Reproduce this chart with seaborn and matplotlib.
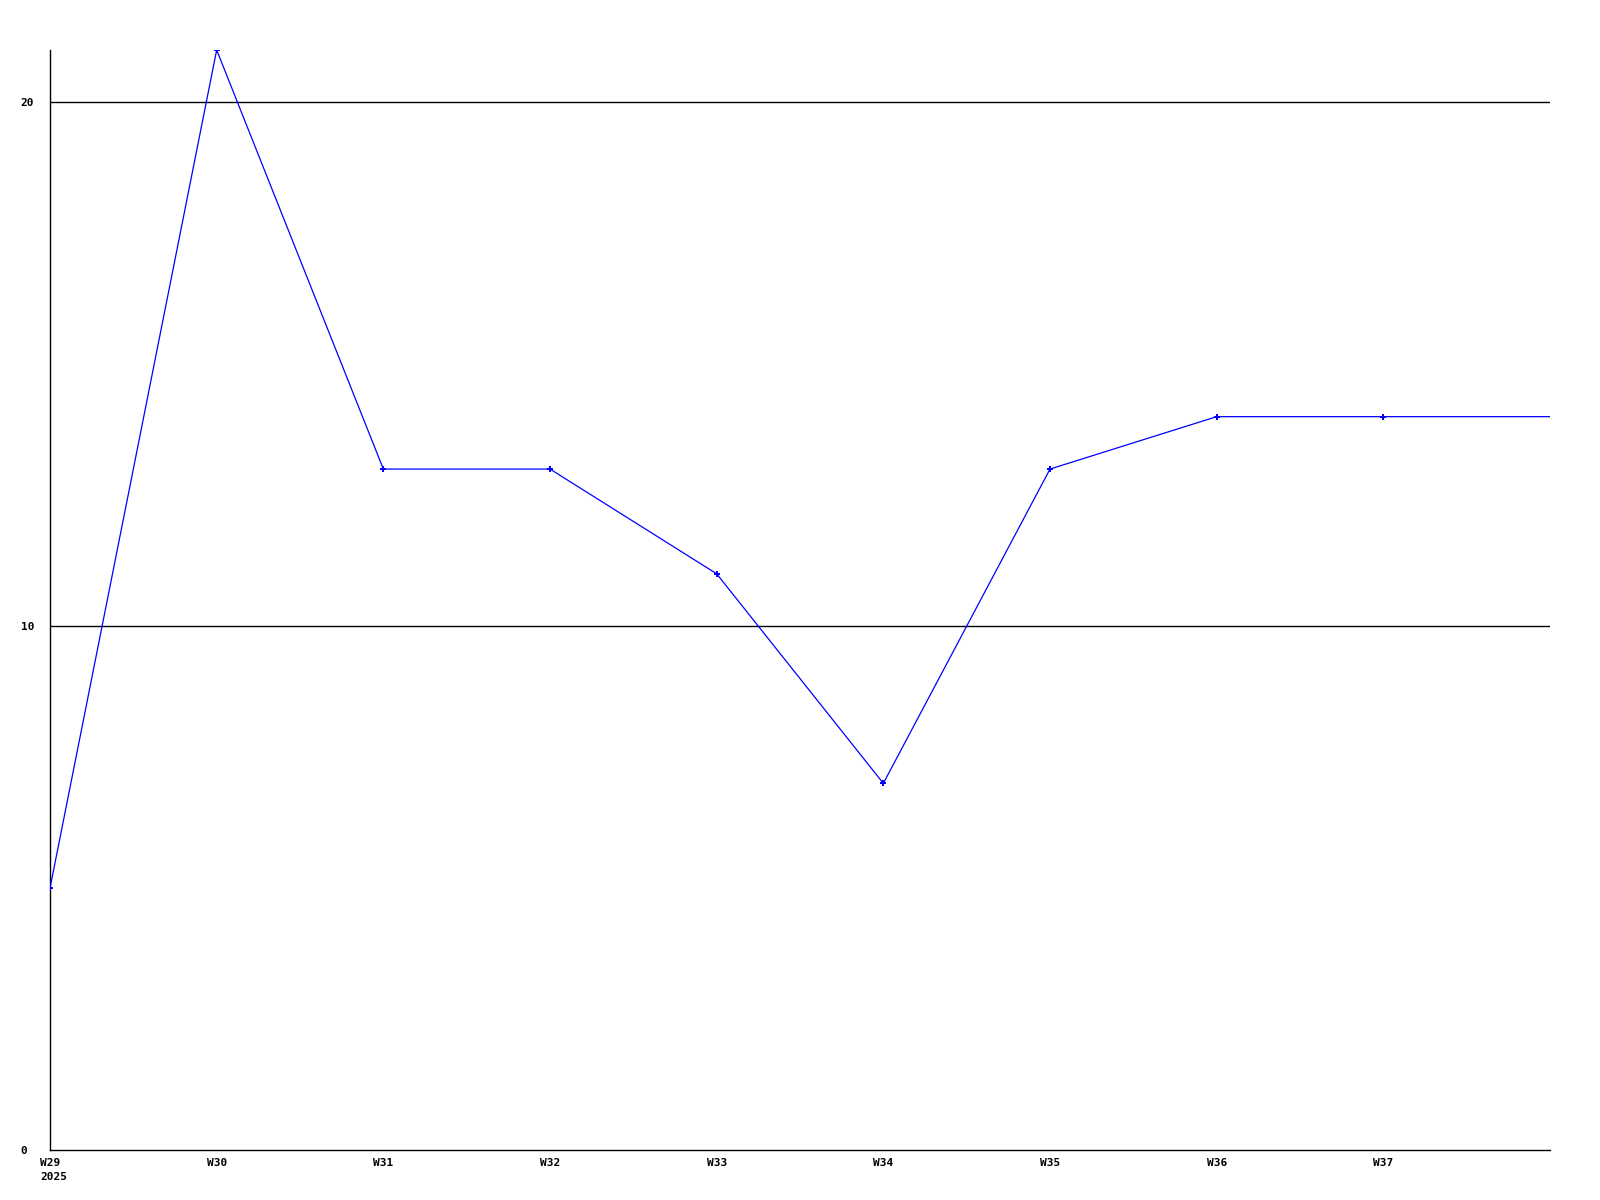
import pandas as pd
import matplotlib
matplotlib.use('Agg')
import matplotlib.pyplot as plt
import seaborn as sns

# Weekly values
weeks = ['W29', 'W30', 'W31', 'W32', 'W33', 'W34', 'W35', 'W36', 'W37', 'W38']
values = [5, 21, 13, 13, 11, 7, 13, 14, 14, 14]
year_label = '2025'
y_ticks = [0, 10, 20]

df = pd.DataFrame({'pos': range(len(weeks)), 'week': weeks, 'value': values})

sns.set_style('white')
plt.rcParams['font.family'] = ['DejaVu Sans Mono']

fig = plt.figure(figsize=(16, 12), dpi=100)
ax = fig.add_axes([0.03125, 0.04167, 0.9375, 0.91667])

# grid lines at 10 and 20
for yv in y_ticks[1:]:
    ax.axhline(yv, color='black', linewidth=1, zorder=1)

sns.lineplot(data=df, x='pos', y='value', color='#0000ff', linewidth=0.9,
             ax=ax, zorder=3)
# last point (partial week) has no marker
sns.scatterplot(data=df.iloc[:-1], x='pos', y='value', color='#0000ff',
                marker='P', s=14, linewidth=0, ax=ax, zorder=4)

ax.set_xlim(0, len(weeks) - 1)
ax.set_ylim(0, 21)
ax.set_xlabel('')
ax.set_ylabel('')

ax.set_xticks(df['pos'].iloc[:-1])
ax.set_xticklabels(weeks[:-1], fontsize=8, fontweight='bold', color='black')
ax.set_yticks(y_ticks)
ax.set_yticklabels([str(v) for v in y_ticks], fontsize=8, fontweight='bold',
                   ha='left', color='black')
ax.tick_params(axis='both', length=0)
ax.tick_params(axis='x', pad=6)
ax.tick_params(axis='y', pad=21)

for side in ['top', 'right']:
    ax.spines[side].set_visible(False)
for side in ['left', 'bottom']:
    ax.spines[side].set_color('black')
    ax.spines[side].set_linewidth(1)

# year under the first week label
ax.annotate(year_label, xy=(0, 0), xycoords='data', xytext=(-10, -27),
            textcoords='offset pixels', ha='left', va='center',
            fontsize=8, fontweight='bold', color='black')

fig.savefig('out.png', dpi=100, facecolor='white')
